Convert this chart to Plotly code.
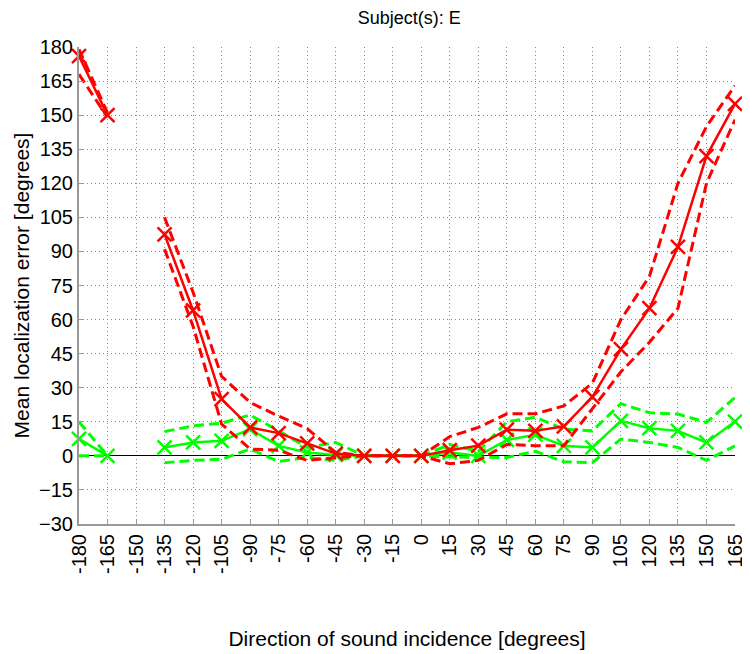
import plotly.graph_objects as go

directions = list(range(-180, 166, 15))
tick_labels = [str(v) for v in directions]
y_ticks = list(range(-30, 181, 15))

red_mean = [176, 150, None, 97.5, 64, 25, 12.5, 10, 5.5, 1, 0, 0, 0, 2.5, 4.5, 11.5, 11, 13, 26, 47, 65, 92, 132, 155]
red_upper = [179, 151, None, 105, 72, 35, 23.5, 17.5, 12, 1.5, 0, 0, 0, 8.5, 12.5, 18.5, 18.5, 22, 32, 60, 79, 120, 145, 163]
red_lower = [168, 149, None, 91, 57, 14, 3, 2.5, -2, -0.7, 0, 0, 0, -3.5, -2, 5, 4.5, 4.5, 21, 37, 50, 65, 120, 148]

green_mean = [7.5, 0, None, 3.7, 5.9, 6.6, 11.8, 4.4, 1.5, 0.4, 0, 0, 0, 1.5, 0, 7, 9.3, 4.4, 3.7, 15.4, 12.2, 11, 5.9, 15.1]
green_upper = [15, 0, None, 10.7, 13.2, 14.4, 18, 11, 3.7, 5.9, 0, 0, 0, 5, 2, 15, 17, 11.8, 11, 23, 19, 18.4, 14.7, 25.7]
green_lower = [0, 0, None, -3, -2, -1.5, 3, -2.5, -0.7, -2, 0, 0, 0, -0.5, -0.7, -0.7, 2, -2.6, -3, 7.4, 5.9, 3.7, -2, 4.4]

RED = "#FF0000"
GREEN = "#00FF00"

fig = go.Figure()

def add_series(mean, upper, lower, color):
    for band in (upper, lower):
        fig.add_trace(go.Scatter(x=directions, y=band, mode="lines",
                                 line=dict(color=color, width=3, dash="10px,5px"),
                                 showlegend=False, hoverinfo="skip", cliponaxis=False))
    fig.add_trace(go.Scatter(x=directions, y=mean, mode="lines+markers",
                             line=dict(color=color, width=2.5),
                             marker=dict(symbol="x-thin", size=14,
                                         line=dict(color=color, width=2.5)),
                             showlegend=False, cliponaxis=False))

add_series(green_mean, green_upper, green_lower, GREEN)
add_series(red_mean, red_upper, red_lower, RED)

font_family = "Liberation Sans, Arial, Helvetica, sans-serif"

fig.update_layout(
    width=750, height=654,
    margin=dict(l=68, r=21, t=39, b=138),
    plot_bgcolor="white", paper_bgcolor="white",
    font=dict(family=font_family, color="black", size=20),
    title=dict(text="Subject(s): E", x=0.535, xanchor="center", y=0.985, yanchor="middle",
               font=dict(size=18)),
    xaxis=dict(
        range=[-180, 165], tickmode="array", tickvals=directions, ticktext=tick_labels,
        tickangle=-90, showgrid=True, gridcolor="#888", griddash="1px,3px", gridwidth=1,
        zeroline=False, showline=True, linecolor="#999", linewidth=2,
        ticks="inside", ticklen=5, tickcolor="#999",
        title=dict(text="Direction of sound incidence [degrees]", font=dict(size=21), standoff=58),
    ),
    yaxis=dict(
        range=[-30, 180], tickmode="array", tickvals=y_ticks,
        showgrid=True, gridcolor="#888", griddash="1px,3px", gridwidth=1,
        zeroline=True, zerolinecolor="black", zerolinewidth=1,
        showline=True, linecolor="#999", linewidth=2,
        ticks="inside", ticklen=5, tickcolor="#999",
        title=dict(text="Mean localization error [degrees]", font=dict(size=21), standoff=4),
    ),
)

fig.write_html("out.html")
